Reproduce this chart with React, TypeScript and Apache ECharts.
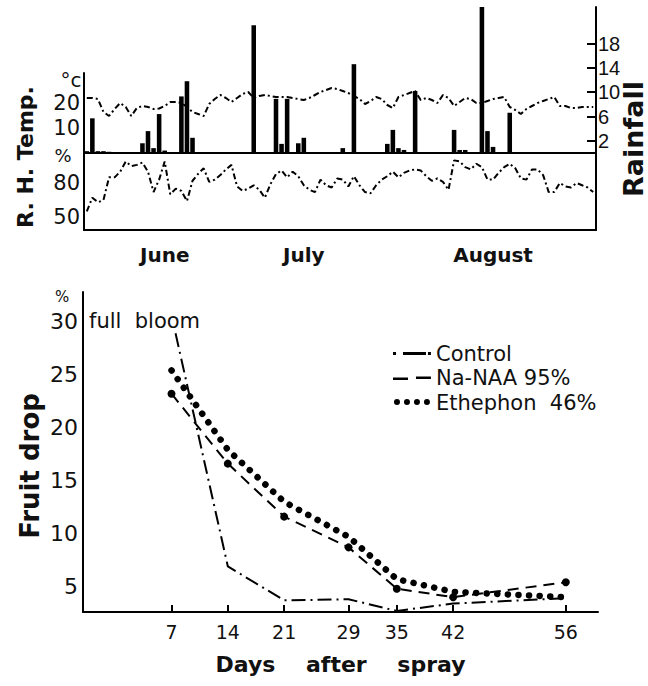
import React, { useEffect, useRef } from "react";
import * as echarts from "echarts";

const FONT = "'DejaVu Sans', 'Liberation Sans', Arial, sans-serif";
const NUM_FONT = "'Liberation Sans', Arial, sans-serif";
const INK = "#111";

// ---------- upper panel: daily weather, June–August ----------
const monthNames = ["June", "July", "August"];
const monthLabelIdx = [14, 39, 73];
const dayLabels = [
  "6/1","6/2","6/3","6/4","6/5","6/6","6/7","6/8","6/9","6/10","6/11","6/12","6/13","6/14","6/15",
  "6/16","6/17","6/18","6/19","6/20","6/21","6/22","6/23","6/24","6/25","6/26","6/27","6/28","6/29","6/30",
  "7/1","7/2","7/3","7/4","7/5","7/6","7/7","7/8","7/9","7/10","7/11","7/12","7/13","7/14","7/15","7/16",
  "7/17","7/18","7/19","7/20","7/21","7/22","7/23","7/24","7/25","7/26","7/27","7/28","7/29","7/30","7/31",
  "8/1","8/2","8/3","8/4","8/5","8/6","8/7","8/8","8/9","8/10","8/11","8/12","8/13","8/14","8/15","8/16",
  "8/17","8/18","8/19","8/20","8/21","8/22","8/23","8/24","8/25","8/26","8/27","8/28","8/29","8/30","8/31"
];
const temperature = [
  22.0, 22.0, 21.6, 16.4, 14.8, 17.6, 20.0, 18.4, 14.8, 18.0,
  18.8, 18.4, 17.6, 17.8, 18.8, 20.4, 20.4, 20.0, 18.4, 16.4,
  15.6, 14.8, 19.6, 21.6, 23.2, 22.0, 20.4, 22.0, 23.6, 24.4,
  22.0, 22.8, 23.2, 22.8, 22.4, 22.4, 22.4, 22.0, 21.6, 21.2,
  22.0, 23.2, 24.4, 25.2, 26.0, 25.6, 24.8, 24.0, 22.8, 21.6,
  19.6, 20.8, 22.4, 21.6, 19.2, 18.0, 22.4, 23.2, 24.0, 24.8,
  21.2, 22.0, 21.2, 20.0, 23.2, 22.0, 18.8, 20.4, 22.0, 21.6,
  20.0, 20.0, 20.8, 21.6, 22.0, 22.4, 18.4, 17.2, 15.6, 17.6,
  18.8, 20.0, 20.8, 21.6, 22.4, 18.8, 18.8, 18.0, 18.0, 18.4,
  18.4, 18.4
];
const humidity = [
  55, 67, 63, 65, 85, 85, 90, 99, 95, 96,
  98, 90, 72, 83, 99, 70, 75, 73, 64, 82,
  88, 93, 81, 83, 87, 92, 96, 77, 73, 75,
  78, 74, 67, 79, 88, 91, 85, 90, 86, 78,
  74, 72, 83, 78, 76, 84, 83, 77, 86, 78,
  72, 71, 78, 83, 86, 90, 85, 89, 91, 92,
  91, 86, 82, 84, 81, 74, 100, 99, 94, 92,
  97, 94, 83, 83, 89, 94, 97, 93, 84, 83,
  92, 92, 87, 72, 72, 80, 77, 76, 80, 78,
  76, 72
];
const rainfall = [
  0.3, 5.7, 0.3, 0.3, 0.2, 0, 0, 0, 0, 0,
  1.6, 3.6, 0.8, 6.4, 0.4, 0, 0, 9.3, 11.8, 2.5,
  0, 0, 0, 0, 0, 0, 0, 0, 0, 0,
  21, 0, 0, 0, 8.9, 1.5, 8.9, 0, 1.6, 2.5,
  0, 0, 0, 0, 0, 0, 0.8, 0, 14.6, 0,
  0, 0, 0, 0, 1.5, 3.8, 0.8, 0.5, 0, 10.2,
  0, 0, 0, 0, 0, 0, 3.8, 0.5, 0.5, 0,
  0, 24, 3.6, 1.0, 0, 0, 6.6, 0, 0, 0,
  0, 0, 0, 0, 0, 0, 0, 0, 0, 0,
  0, 0
];
const rainTicks = [2, 6, 10, 14, 18];
const tempTicks = [10, 20];
const rhTicks = [50, 80];

// ---------- lower panel: fruit drop ----------
const dayTicks = [7, 14, 21, 29, 35, 42, 56];
const dropTicks = [5, 10, 15, 20, 25, 30];
const controlDays = [7.5, 14, 21, 29, 35, 42, 56];
const controlDrop = [28.9, 6.9, 3.7, 3.8, 2.7, 3.4, 3.9];
const naaDays = [7, 14, 21, 29, 35, 42, 56];
const naaDrop = [23.2, 16.6, 11.6, 8.7, 4.8, 4.0, 5.4];
const ethDays = [7, 14, 21, 29, 35, 42, 56];
const ethDrop = [25.4, 17.9, 13.0, 9.7, 5.7, 4.5, 4.0];

const pairs = (xs: number[], ys: number[]) => xs.map((x, i) => [x, ys[i]]);

const axisLineStyle = { color: "#000", width: 2 };

// legend keys drawn like the original: "· —·", "— —", "••••"
const dot = (cx: number, r: number) =>
  `M${cx - r},3a${r},${r} 0 1,0 ${2 * r},0a${r},${r} 0 1,0 ${-2 * r},0`;
const iconControl = "path://M0,2h3v3h-3z M10,2h23v3h-23z M35,2h3v3h-3z M0,0h0.01v0.01h-0.01z M0,7h0.01v0.01h-0.01z";
const iconNaa = "path://M0,3h15v2.5h-15z M23,2h15v2.5h-15z M0,0h0.01v0.01h-0.01z M0,7h0.01v0.01h-0.01z";
const iconEth = "path://" + [4, 14, 24, 34].map((c) => dot(c, 3)).join(" ") + " M0,0h0.01v0.01h-0.01z M38,7h0.01v0.01h-0.01z";

function buildOption() {
  return {
    animation: false,
    backgroundColor: "#fff",
    textStyle: { fontFamily: FONT, color: INK },
    grid: [
      { left: 84, top: 7, width: 512, height: 146 },
      { left: 84, top: 73, width: 512, height: 80 },
      { left: 84, top: 153, width: 512, height: 77 },
      { left: 83, top: 292, width: 515, height: 320 },
    ],
    legend: {
      left: 388,
      top: 338,
      orient: "vertical",
      itemWidth: 38,
      itemHeight: 7,
      itemGap: 3.5,
      symbolKeepAspect: true,
      itemStyle: { color: "#000", borderWidth: 0 },
      textStyle: { fontFamily: FONT, fontSize: 21, color: INK, padding: [0, 0, 0, 0] },
      data: [
        { name: "Control", icon: iconControl },
        { name: "Na-NAA 95%", icon: iconNaa },
        { name: "Ethephon  46%", icon: iconEth },
      ],
    },
    xAxis: [
      {
        gridIndex: 0, type: "category", data: dayLabels, boundaryGap: true,
        axisLine: { onZero: false, lineStyle: axisLineStyle },
        axisTick: { show: false }, axisLabel: { show: false }, splitLine: { show: false },
      },
      { gridIndex: 1, type: "category", data: dayLabels, boundaryGap: true, show: false },
      {
        gridIndex: 2, type: "category", data: dayLabels, boundaryGap: true,
        axisLine: { onZero: false, lineStyle: axisLineStyle },
        axisTick: { show: false },
        axisLabel: {
          interval: (i: number) => monthLabelIdx.indexOf(i) >= 0,
          formatter: (_v: string, i: number) => monthNames[monthLabelIdx.indexOf(i)] ?? "",
          fontFamily: FONT, fontWeight: "bold", fontSize: 20, color: INK, margin: 15,
        },
        splitLine: { show: false },
      },
      {
        gridIndex: 3, type: "value", min: -4, max: 60,
        axisLine: { onZero: false, lineStyle: axisLineStyle },
        axisTick: { show: true, inside: true, length: 7, customValues: dayTicks, lineStyle: { width: 2, color: "#000" } },
        axisLabel: { customValues: dayTicks, fontFamily: FONT, fontSize: 19, color: INK, margin: 10 },
        splitLine: { show: false },
        name: "Days    after    spray",
        nameLocation: "middle",
        nameGap: 41,
        nameTextStyle: { fontFamily: FONT, fontWeight: "bold", fontSize: 22, color: INK },
      },
    ],
    yAxis: [
      {
        gridIndex: 0, type: "value", position: "right", min: 0, max: 24,
        axisLine: { show: true, onZero: false, lineStyle: axisLineStyle },
        axisTick: { show: true, inside: true, length: 9, customValues: rainTicks, lineStyle: { width: 2, color: "#000" } },
        axisLabel: { customValues: rainTicks, margin: 2, fontFamily: NUM_FONT, fontSize: 20, color: INK },
        splitLine: { show: false },
      },
      {
        gridIndex: 1, type: "value", position: "left", min: 0, max: 32,
        axisLine: { show: true, onZero: false, lineStyle: axisLineStyle },
        axisTick: { show: false },
        axisLabel: { customValues: tempTicks, margin: 4, fontFamily: FONT, fontSize: 21, color: INK },
        splitLine: { show: false },
      },
      {
        gridIndex: 2, type: "value", position: "left", min: 38.5, max: 106.5,
        axisLine: { show: true, onZero: false, lineStyle: axisLineStyle },
        axisTick: { show: false },
        axisLabel: { customValues: rhTicks, margin: 4, fontFamily: FONT, fontSize: 21, color: INK },
        splitLine: { show: false },
      },
      {
        gridIndex: 2, type: "value", position: "right", min: 0, max: 1,
        axisLine: { show: true, onZero: false, lineStyle: axisLineStyle },
        axisTick: { show: false }, axisLabel: { show: false }, splitLine: { show: false },
      },
      {
        gridIndex: 3, type: "value", min: 2.6, max: 32.8,
        axisLine: { show: true, onZero: false, lineStyle: axisLineStyle },
        axisTick: { show: false },
        axisLabel: { customValues: dropTicks, margin: 5, fontFamily: FONT, fontSize: 22, color: INK },
        splitLine: { show: false },
      },
    ],
    series: [
      {
        name: "Rainfall", type: "bar", xAxisIndex: 0, yAxisIndex: 0, data: rainfall,
        barCategoryGap: "18%", itemStyle: { color: "#000" }, silent: true,
      },
      {
        name: "Temp.", type: "line", xAxisIndex: 1, yAxisIndex: 1, data: temperature,
        symbol: "none", lineStyle: { color: "#000", width: 2, type: [6, 3, 2, 3] }, silent: true,
      },
      {
        name: "R. H.", type: "line", xAxisIndex: 2, yAxisIndex: 2, data: humidity,
        symbol: "none", lineStyle: { color: "#000", width: 2, type: [6, 3, 2, 3] }, silent: true,
      },
      {
        name: "Control", type: "line", xAxisIndex: 3, yAxisIndex: 4, data: pairs(controlDays, controlDrop),
        symbol: "none", itemStyle: { color: "#000" },
        lineStyle: { color: "#000", width: 2, type: [14, 5, 2, 5] },
      },
      {
        name: "Na-NAA 95%", type: "line", xAxisIndex: 3, yAxisIndex: 4, data: pairs(naaDays, naaDrop),
        symbol: "circle", symbolSize: 8, itemStyle: { color: "#000" },
        lineStyle: { color: "#000", width: 2, type: [11, 7] },
      },
      {
        name: "Ethephon  46%", type: "line", xAxisIndex: 3, yAxisIndex: 4, data: pairs(ethDays, ethDrop),
        symbol: "none", itemStyle: { color: "#000" },
        lineStyle: { color: "#000", width: 6.5, type: [0.1, 10.5], cap: "round" },
      },
    ],
    graphic: [
      { type: "text", x: 71, y: 80, style: { text: "°c", font: `20px ${FONT}`, fill: INK, align: "center", verticalAlign: "middle" } },
      { type: "text", x: 63, y: 155, style: { text: "%", font: `18px ${FONT}`, fill: INK, align: "center", verticalAlign: "middle" } },
      { type: "text", x: 62, y: 297, style: { text: "%", font: `15px ${FONT}`, fill: INK, align: "center", verticalAlign: "middle" } },
      { type: "text", x: 25, y: 157, rotation: Math.PI / 2, style: { text: "R. H. Temp.", font: `bold 22px ${FONT}`, fill: INK, align: "center", verticalAlign: "middle" } },
      { type: "text", x: 633, y: 139, rotation: Math.PI / 2, style: { text: "Rainfall", font: `bold 27px ${FONT}`, fill: INK, align: "center", verticalAlign: "middle" } },
      { type: "text", x: 30, y: 466, rotation: Math.PI / 2, style: { text: "Fruit drop", font: `bold 26px ${FONT}`, fill: INK, align: "center", verticalAlign: "middle" } },
      { type: "text", x: 89, y: 321, style: { text: "full  bloom", font: `21px ${FONT}`, fill: INK, align: "left", verticalAlign: "middle" } },
    ],
  };
}

export default function App() {
  const ref = useRef<HTMLDivElement>(null);
  useEffect(() => {
    if (!ref.current) return;
    const chart = echarts.init(ref.current, undefined, { renderer: "svg" });
    chart.setOption(buildOption() as any);
    return () => chart.dispose();
  }, []);
  return (
    <div
      ref={ref}
      style={{ position: "absolute", left: 0, top: 0, width: 648, height: 686, background: "#fff" }}
    />
  );
}
